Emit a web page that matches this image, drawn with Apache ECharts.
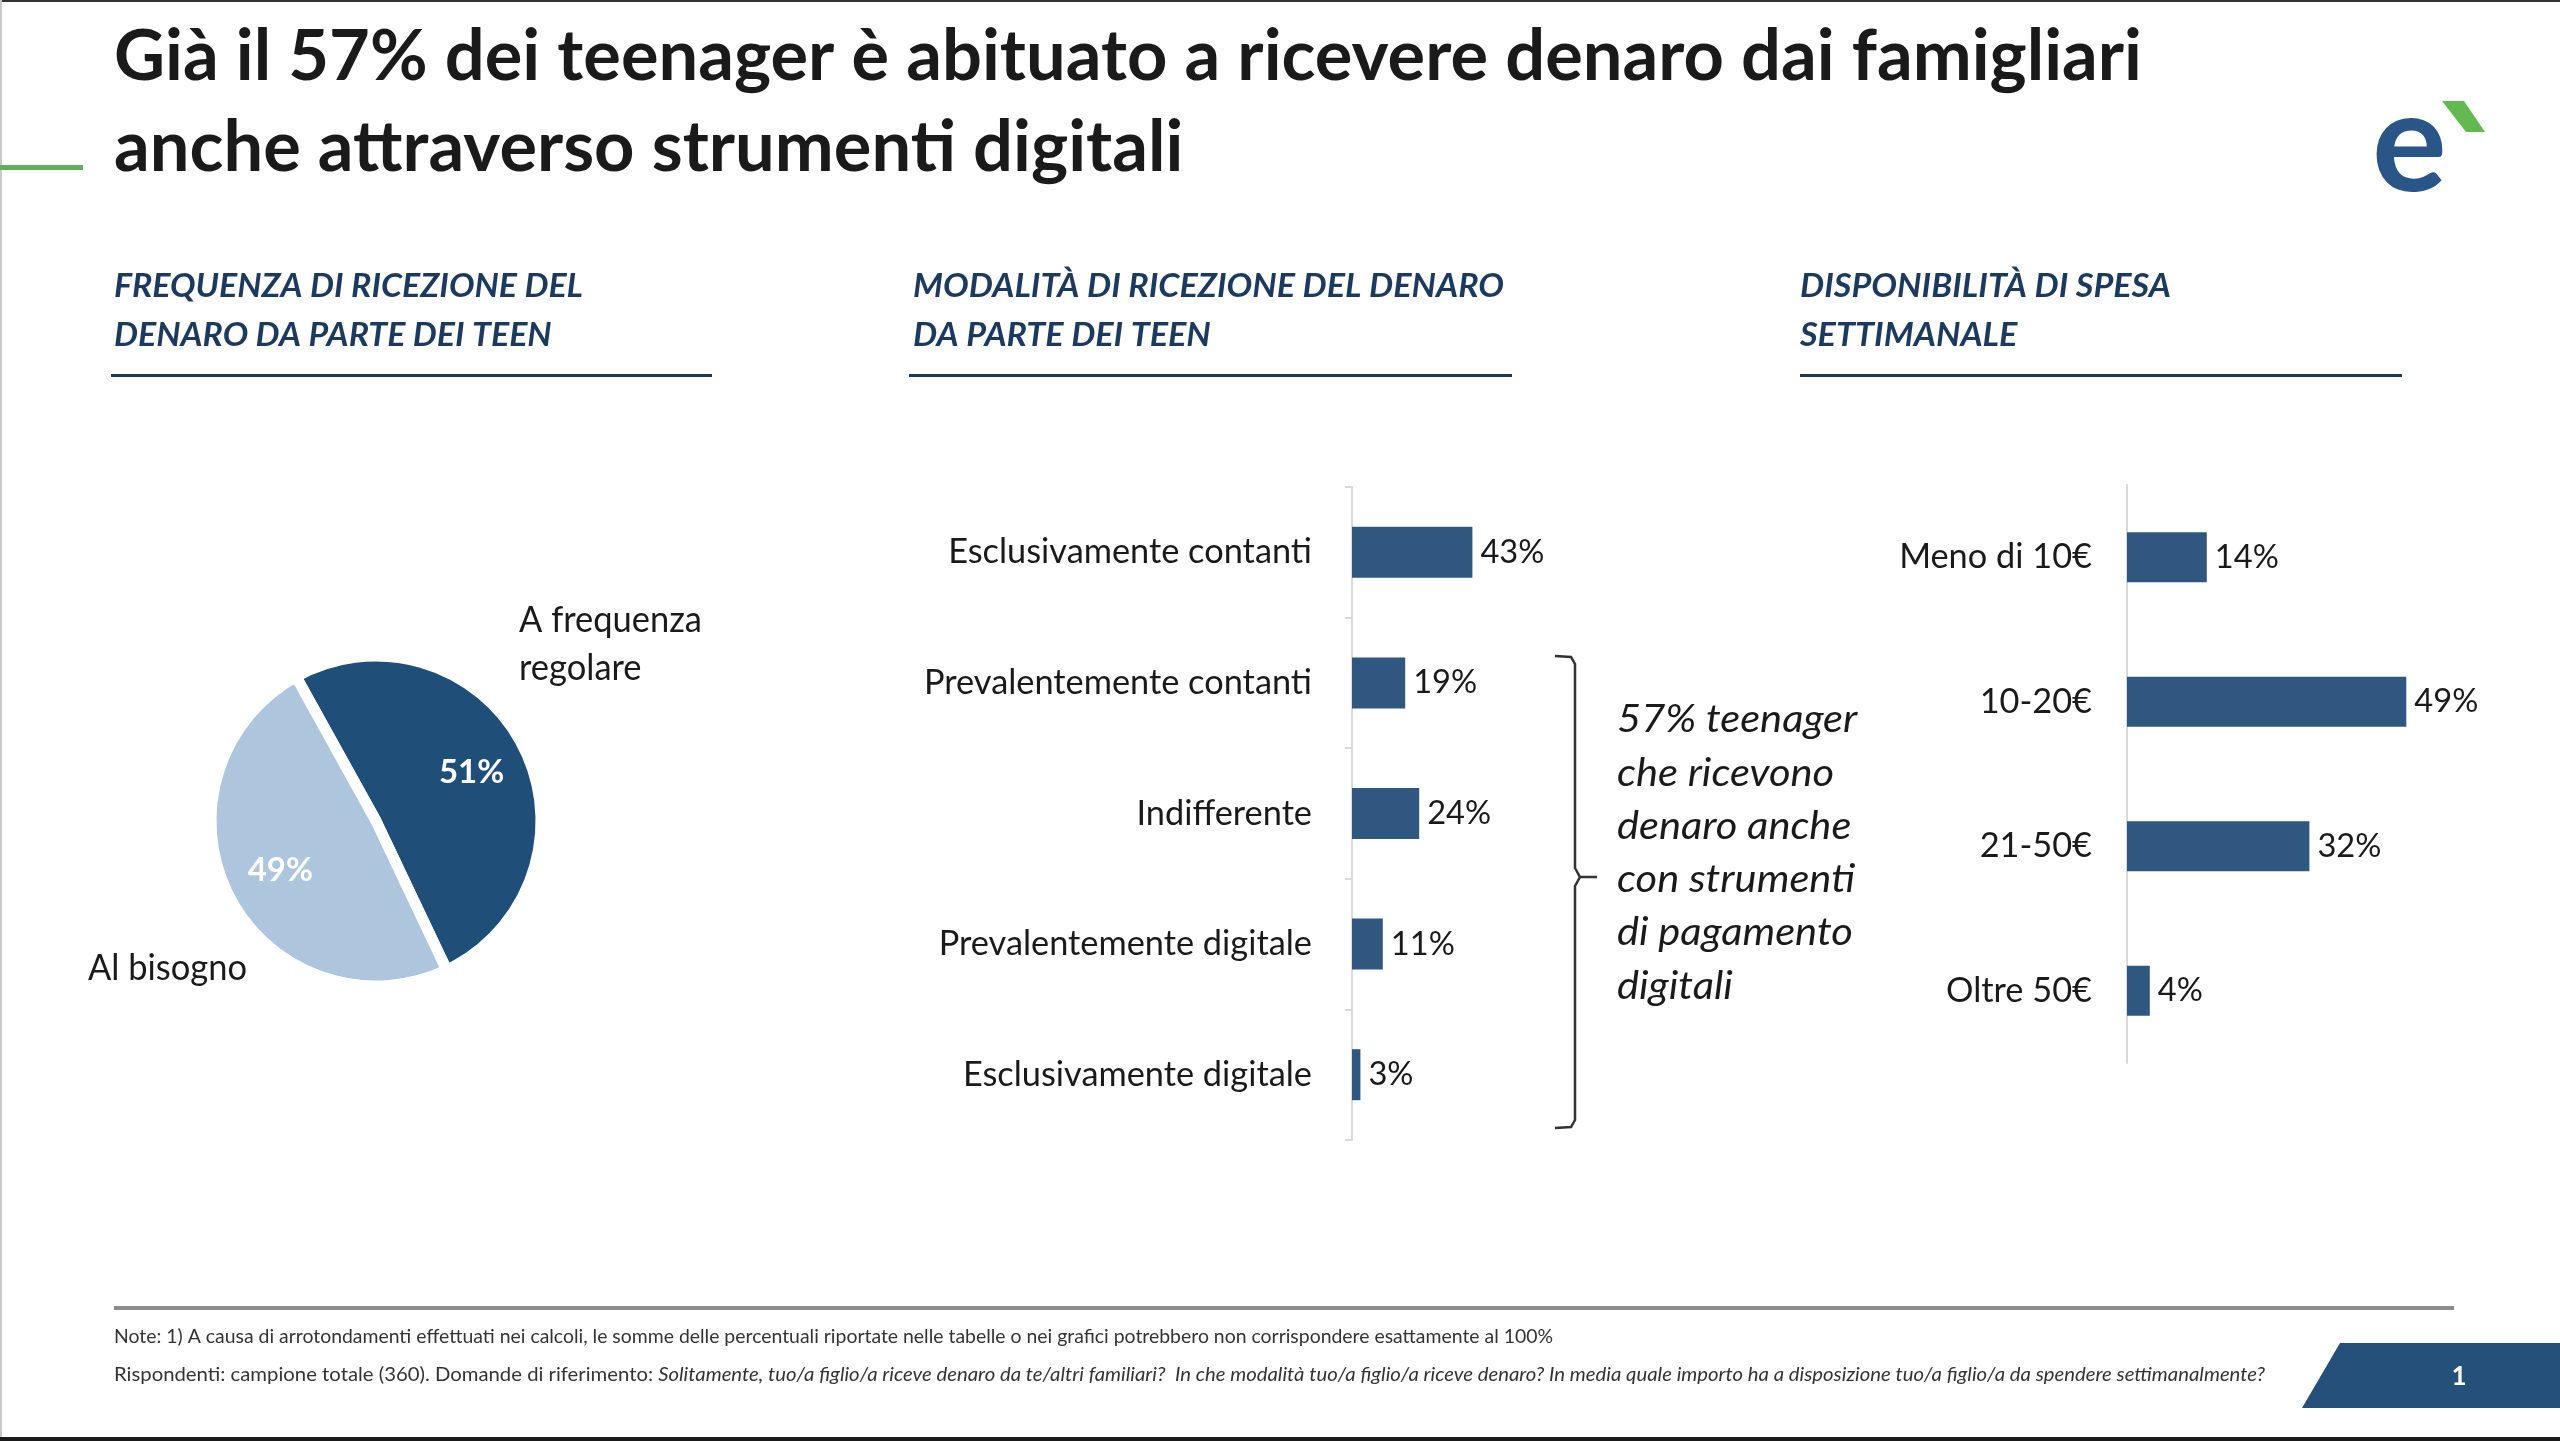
<!DOCTYPE html>
<html><head><meta charset="utf-8">
<script src="https://cdn.jsdelivr.net/npm/echarts@6/dist/echarts.min.js"></script>
<style>html,body{margin:0;padding:0;background:#fff}#c{width:2560px;height:1441px}</style>
</head><body><div id="c"></div>
<script>
// ---------- data ----------
const titleLines = ['Già il 57% dei teenager è abituato a ricevere denaro dai famigliari', 'anche attraverso strumenti digitali'];
const sectionTitles = [
  ['FREQUENZA DI RICEZIONE DEL', 'DENARO DA PARTE DEI TEEN'],
  ['MODALITÀ DI RICEZIONE DEL DENARO', 'DA PARTE DEI TEEN'],
  ['DISPONIBILITÀ DI SPESA', 'SETTIMANALE']
];
const pieNames = ['A frequenza regolare', 'Al bisogno'];
const pieLabelLines = [['A frequenza', 'regolare'], ['Al bisogno']];
const pieValues = [51, 49];
const modeCategories = ['Esclusivamente contanti', 'Prevalentemente contanti', 'Indifferente', 'Prevalentemente digitale', 'Esclusivamente digitale'];
const modeValues = [43, 19, 24, 11, 3];
const spendCategories = ['Meno di 10€', '10-20€', '21-50€', 'Oltre 50€'];
const spendValues = [14, 49, 32, 4];
const annotationLines = ['57% teenager', 'che ricevono', 'denaro anche', 'con strumenti', 'di pagamento', 'digitali'];
const noteLine = 'Note: 1) A causa di arrotondamenti effettuati nei calcoli, le somme delle percentuali riportate nelle tabelle o nei grafici potrebbero non corrispondere esattamente al 100%';
const respLead = 'Rispondenti: campione totale (360). Domande di riferimento: ';
const respQuestions = 'Solitamente, tuo/a figlio/a riceve denaro da te/altri familiari?  In che modalità tuo/a figlio/a riceve denaro? In media quale importo ha a disposizione tuo/a figlio/a da spendere settimanalmente?';
const pageNumber = '1';

// ---------- styles ----------
const FONT = 'Lato';
const NAVY = '#1c3a5e';
const BAR = '#30577f';
const PIE_DARK = '#1f4e79';
const PIE_LIGHT = '#adc5dd';
const TXT = '#1a1a1a';

const mctx = document.createElement('canvas').getContext('2d');
function tw(text, weight, style, size) {
  mctx.font = (style || 'normal') + ' ' + (weight || 'normal') + ' ' + size + 'px ' + FONT;
  return mctx.measureText(text).width;
}
function fitScale(text, weight, style, size, target) { return target / tw(text, weight, style, size); }

const catFs = 364 / tw(modeCategories[0], 'normal', 'normal', 100) * 100;
const valFs = 64 / tw('43%', 'normal', 'normal', 100) * 100;

const graphics = [];
// frame
graphics.push({type: 'rect', shape: {x: 0, y: 0, width: 2560, height: 2}, style: {fill: '#333'}});
graphics.push({type: 'rect', shape: {x: 0, y: 0, width: 2, height: 1441}, style: {fill: '#c8c8c8'}});
graphics.push({type: 'rect', shape: {x: 0, y: 1437, width: 2560, height: 4}, style: {fill: '#1a1a1a'}});
// green accent
graphics.push({type: 'rect', shape: {x: 0, y: 165, width: 83, height: 5}, style: {fill: '#5eb15a'}});
// title
const tSize = 70;
const tScale = fitScale(titleLines[0], 'bold', 'normal', tSize, 2028);
titleLines.forEach((t, i) => {
  graphics.push({type: 'text', x: 114, y: 57 + i * 91, scaleX: tScale,
    style: {text: t, fontFamily: FONT, fontWeight: 'bold', fontSize: tSize, fill: TXT, verticalAlign: 'middle', align: 'left'}});
});
// logo
graphics.push({type: 'text', x: 2372, y: 146,
  style: {text: 'e', fontFamily: FONT, fontWeight: 'bold', fontSize: 140, fill: '#2a5587', verticalAlign: 'middle', align: 'left'}});
graphics.push({type: 'polygon', shape: {points: [[2442, 101], [2464, 101], [2485, 132], [2466, 132]]}, style: {fill: '#62b94f'}});
// section headings
const secX = [114, 913, 1800];
const secTargets = [469, 591, 371];
const secLines = [[111, 712], [909, 1512], [1800, 2402]];
const hSize = 32;
sectionTitles.forEach((lines, s) => {
  const sc = fitScale(lines[0], 'bold', 'italic', hSize, secTargets[s]);
  lines.forEach((t, i) => {
    graphics.push({type: 'text', x: secX[s], y: 287 + i * 49, scaleX: sc,
      style: {text: t, fontFamily: FONT, fontWeight: 'bold', fontStyle: 'italic', fontSize: hSize, fill: NAVY, verticalAlign: 'middle', align: 'left'}});
  });
  graphics.push({type: 'rect', shape: {x: secLines[s][0], y: 374, width: secLines[s][1] - secLines[s][0], height: 3}, style: {fill: NAVY}});
});
// pie names
const pnSize = 36;
const pnScale = fitScale(pieLabelLines[0][0], 'normal', 'normal', pnSize, 183);
const pnPos = [[519, 620], [88, 968]];
pieLabelLines.forEach((lines, k) => {
  lines.forEach((t, i) => {
    graphics.push({type: 'text', x: pnPos[k][0], y: pnPos[k][1] + i * 48, scaleX: pnScale,
      style: {text: t, fontFamily: FONT, fontSize: pnSize, fill: TXT, verticalAlign: 'middle', align: 'left'}});
  });
});
// brace
const braceStyle = {stroke: '#333', lineWidth: 2.5, fill: null};
graphics.push({type: 'polyline', shape: {points: [[1555, 656], [1571, 657], [1575, 664], [1575, 868], [1580, 877], [1597, 877]]}, style: braceStyle});
graphics.push({type: 'polyline', shape: {points: [[1580, 877], [1575, 886], [1575, 1120], [1571, 1127], [1555, 1128]]}, style: braceStyle});
// annotation
const aSize = 38;
const aScale = fitScale(annotationLines[3], 'normal', 'italic', aSize, 238);
annotationLines.forEach((t, i) => {
  graphics.push({type: 'text', x: 1617, y: 720 + i * 53.3, scaleX: aScale,
    style: {text: t, fontFamily: FONT, fontStyle: 'italic', fontSize: aSize, fill: TXT, verticalAlign: 'middle', align: 'left'}});
});
// footer
graphics.push({type: 'rect', shape: {x: 114, y: 1306, width: 2340, height: 4}, style: {fill: '#8c8c8c'}});
const fSize = 19;
graphics.push({type: 'text', x: 114, y: 1337, scaleX: fitScale(noteLine, 'normal', 'normal', fSize, 1439),
  style: {text: noteLine, fontFamily: FONT, fontSize: fSize, fill: '#333', verticalAlign: 'middle', align: 'left'}});
const respW = tw(respLead, 'normal', 'normal', fSize) + tw(respQuestions, 'normal', 'italic', fSize);
graphics.push({type: 'text', x: 114, y: 1375, scaleX: 2151 / respW,
  style: {text: '{a|' + respLead + '}{b|' + respQuestions + '}', verticalAlign: 'middle', align: 'left',
    rich: {a: {fontFamily: FONT, fontSize: fSize, fill: '#333'}, b: {fontFamily: FONT, fontSize: fSize, fontStyle: 'italic', fill: '#333'}}}});
graphics.push({type: 'polygon', shape: {points: [[2340, 1343], [2560, 1343], [2560, 1408], [2302, 1408]]}, style: {fill: '#245079'}});
graphics.push({type: 'text', x: 2459, y: 1377,
  style: {text: pageNumber, fontFamily: FONT, fontWeight: 'bold', fontSize: 26, fill: '#fff', verticalAlign: 'middle', align: 'center'}});

const axisGrey = '#d9d9d9';
const option = {
  animation: false,
  backgroundColor: '#fff',
  grid: [
    {left: 1352, top: 487, width: 280, height: 653},
    {left: 2127, top: 485, width: 342, height: 578}
  ],
  xAxis: [
    {gridIndex: 0, type: 'value', min: 0, max: 100, show: false},
    {gridIndex: 1, type: 'value', min: 0, max: 60, show: false}
  ],
  yAxis: [
    {gridIndex: 0, type: 'category', data: modeCategories, inverse: true,
      axisLine: {show: true, lineStyle: {color: axisGrey, width: 2}},
      axisTick: {show: true, length: 7, lineStyle: {color: axisGrey, width: 2}},
      axisLabel: {margin: 40, fontSize: catFs, fontFamily: FONT, color: TXT}},
    {gridIndex: 1, type: 'category', data: spendCategories, inverse: true,
      axisLine: {show: true, lineStyle: {color: axisGrey, width: 2}},
      axisTick: {show: false},
      axisLabel: {margin: 35, fontSize: catFs, fontFamily: FONT, color: TXT}}
  ],
  series: [
    {type: 'bar', xAxisIndex: 0, yAxisIndex: 0, data: modeValues, barWidth: 51,
      itemStyle: {color: BAR},
      label: {show: true, position: 'right', distance: 8, formatter: '{c}%', fontSize: valFs, fontFamily: FONT, color: TXT}},
    {type: 'bar', xAxisIndex: 1, yAxisIndex: 1, data: spendValues, barWidth: 50,
      itemStyle: {color: BAR},
      label: {show: true, position: 'right', distance: 8, formatter: '{c}%', fontSize: valFs, fontFamily: FONT, color: TXT}},
    {type: 'pie', center: [376, 821], radius: [0, 165], startAngle: 119, clockwise: true, silent: true,
      data: pieNames.map((n, i) => ({name: n, value: pieValues[i], itemStyle: {color: i === 0 ? PIE_DARK : PIE_LIGHT}})),
      itemStyle: {borderColor: '#fff', borderWidth: 11},
      label: {show: false}, labelLine: {show: false}},
    {type: 'pie', center: [376, 821], radius: [44, 165], startAngle: 119, clockwise: true, silent: true,
      data: pieNames.map((n, i) => ({name: n, value: pieValues[i]})),
      itemStyle: {color: 'rgba(0,0,0,0)'},
      label: {show: true, position: 'inside', formatter: '{c}%', fontSize: 33, fontWeight: 'bold', fontFamily: FONT, color: '#fff'},
      labelLine: {show: false}}
  ],
  graphic: graphics
};
const chart = echarts.init(document.getElementById('c'), null, {renderer: 'canvas', width: 2560, height: 1441});
chart.setOption(option);
</script>
</body></html>
